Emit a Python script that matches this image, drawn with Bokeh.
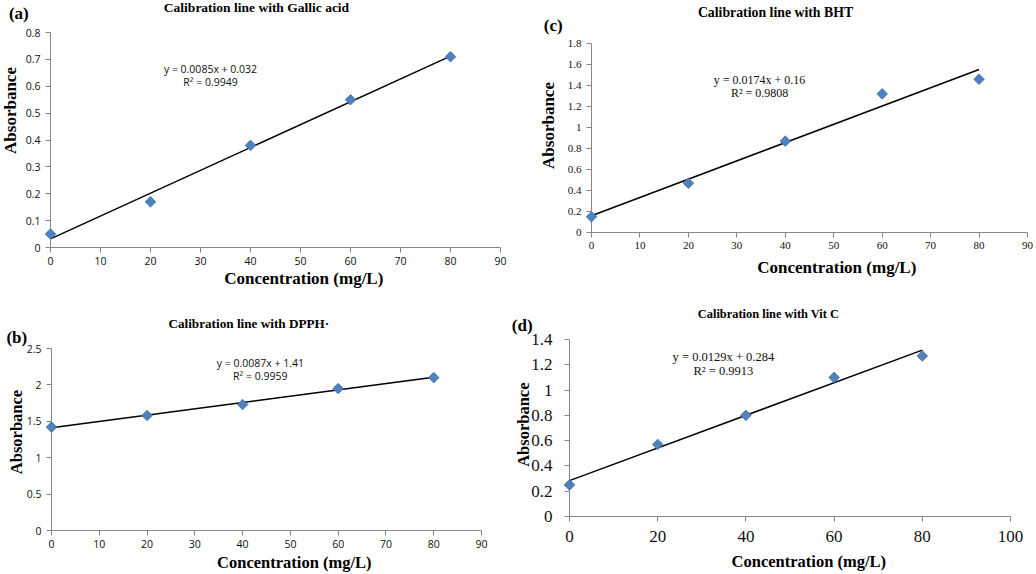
from bokeh.plotting import figure
from bokeh.layouts import column, row
from bokeh.models import Range1d, FixedTicker, NumeralTickFormatter, Label
from bokeh.core.properties import value
from bokeh.embed import file_html
from bokeh.resources import INLINE

# ---------------- data ----------------
conc = [0, 20, 40, 60, 80]
gallic_abs = [0.05, 0.17, 0.38, 0.55, 0.71]
bht_abs = [0.15, 0.47, 0.87, 1.32, 1.46]
dpph_abs = [1.42, 1.58, 1.73, 1.95, 2.10]
vitc_abs = [0.25, 0.57, 0.80, 1.10, 1.27]

trend_x = [0, 80]
gallic_trend = [0.032, 0.712]
bht_trend = [0.16, 1.552]
dpph_trend = [1.41, 2.106]
vitc_trend = [0.284, 1.316]

x_ticks_90 = [0, 10, 20, 30, 40, 50, 60, 70, 80, 90]
x_ticks_100 = [0, 20, 40, 60, 80, 100]
gallic_yticks = [0, 0.1, 0.2, 0.3, 0.4, 0.5, 0.6, 0.7, 0.8]
bht_yticks = [0, 0.2, 0.4, 0.6, 0.8, 1.0, 1.2, 1.4, 1.6, 1.8]
dpph_yticks = [0, 0.5, 1.0, 1.5, 2.0, 2.5]
vitc_yticks = [0, 0.2, 0.4, 0.6, 0.8, 1.0, 1.2, 1.4]

gallic_eq = ["y = 0.0085x + 0.032", "R² = 0.9949"]
bht_eq = ["y = 0.0174x + 0.16", "R² = 0.9808"]
dpph_eq = ["y = 0.0087x + 1.41", "R² = 0.9959"]
vitc_eq = ["y = 0.0129x + 0.284", "R² = 0.9913"]

titles = ["Calibration line with Gallic acid", "Calibration line with BHT",
          "Calibration line with DPPH·", "Calibration line with Vit C"]
panel_tags = ["(a)", "(c)", "(b)", "(d)"]
x_label = "Concentration (mg/L)"
y_label = "Absorbance"

SERIF = "Liberation Serif"
SANS = "Open Sans"
BLUE = "#4F81BD"
AXIS = "#868686"


def panel(w, h, borders, xr, yr, xticks, yticks, y_vals, trend_y, eq, eq_pos,
          tick_font, tick_size, eq_font, eq_size, standoff, title, tag,
          title_off, tag_off, ylab_off, xlab_off, lab_size, title_size):
    left, right, top, bottom = borders
    p = figure(width=w, height=h, x_range=Range1d(*xr), y_range=Range1d(*yr),
               output_backend="svg", toolbar_location=None, tools="",
               min_border_left=left, min_border_right=right,
               min_border_top=top, min_border_bottom=bottom)
    p.frame_align = False
    p.outline_line_color = None
    p.grid.visible = False
    p.background_fill_color = "white"
    p.border_fill_color = "white"
    for ax, ticks in ((p.xaxis, xticks), (p.yaxis, yticks)):
        ax.ticker = FixedTicker(ticks=ticks)
        ax.formatter = NumeralTickFormatter(format="0.[0]")
        ax.axis_line_color = AXIS
        ax.major_tick_line_color = AXIS
        ax.major_tick_out = 5
        ax.major_tick_in = 0
        ax.minor_tick_line_color = None
        ax.major_label_text_font = tick_font
        ax.major_label_text_font_size = tick_size
        ax.major_label_text_color = "#111111"
    p.yaxis.major_label_standoff = standoff[0]
    p.xaxis.major_label_standoff = standoff[1]

    p.line(trend_x, trend_y, line_color="black", line_width=1.5)
    p.scatter(conc, y_vals, marker="square", angle=45, angle_units="deg",
              size=7.5, fill_color=BLUE, line_color="#3E6DA8", line_width=0.8,
              level="overlay")

    for txt, yy in zip(eq, eq_pos[1:]):
        p.add_layout(Label(x=eq_pos[0], y=yy, text=txt, text_align="center",
                           text_baseline="middle", text_font=eq_font,
                           text_font_size=eq_size, text_color="#111111"))

    # texts outside the frame, anchored at the frame's top-left corner
    def outer_text(txt, off, size, angle=0):
        p.text(x=[xr[0]], y=[yr[1]], text=[txt], x_offset=off[0], y_offset=off[1],
               angle=angle, angle_units="deg", text_align="center",
               text_baseline="middle", text_font=value(SERIF),
               text_font_style="bold", text_font_size=value(size),
               text_color="black", level="overlay")

    outer_text(title, title_off, title_size)
    outer_text(tag, tag_off, "17px")
    outer_text(y_label, ylab_off, lab_size, angle=90)
    outer_text(x_label, xlab_off, lab_size)
    return p


pa = panel(520, 290, (50, 20, 32, 43), (0, 90), (0, 0.8), x_ticks_90, gallic_yticks,
           gallic_abs, gallic_trend, gallic_eq, (32, 0.666, 0.617),
           SANS, "10.5px", SANS, "10.5px", (5, 4), titles[0], panel_tags[0],
           (206, -25.3), (-31.7, -18.7), (-40, 78), (253.3, 246), "17px", "13.5px")

pc = panel(516, 290, (71, 9, 43, 58), (0, 90), (0, 1.8), x_ticks_90, bht_yticks,
           bht_abs, bht_trend, bht_eq, (34.7, 1.457, 1.333),
           SERIF, "11px", SERIF, "12px", (5, 4), titles[1], panel_tags[1],
           (184, -31.3), (-38.3, -18), (-42.7, 82), (245.3, 224.3), "17px", "13.8px")

pb = panel(500, 284, (51, 19, 58, 44), (0, 90), (0, 2.5), x_ticks_90, dpph_yticks,
           dpph_abs, dpph_trend, dpph_eq, (43.7, 2.298, 2.125),
           SANS, "10.5px", SANS, "10.5px", (5, 4), titles[2], panel_tags[2],
           (197.3, -24.7), (-34.7, -11.3), (-35, 83.5), (242.8, 214), "16.5px", "13.2px")

pd_ = panel(536, 284, (69, 26, 49, 58), (0, 100), (0, 1.4), x_ticks_100, vitc_yticks,
            vitc_abs, vitc_trend, vitc_eq, (34.9, 1.26, 1.149),
            SERIF, "17px", SERIF, "12.5px", (12, 9), titles[3], panel_tags[3],
            (199, -25.7), (-47.3, -14), (-46.3, 85.2), (239.3, 221.7), "16.5px", "12.4px")

layout = column(row(pa, pc, spacing=0), row(pb, pd_, spacing=0), spacing=0)

open("out.html", "w").write(file_html(layout, INLINE))
